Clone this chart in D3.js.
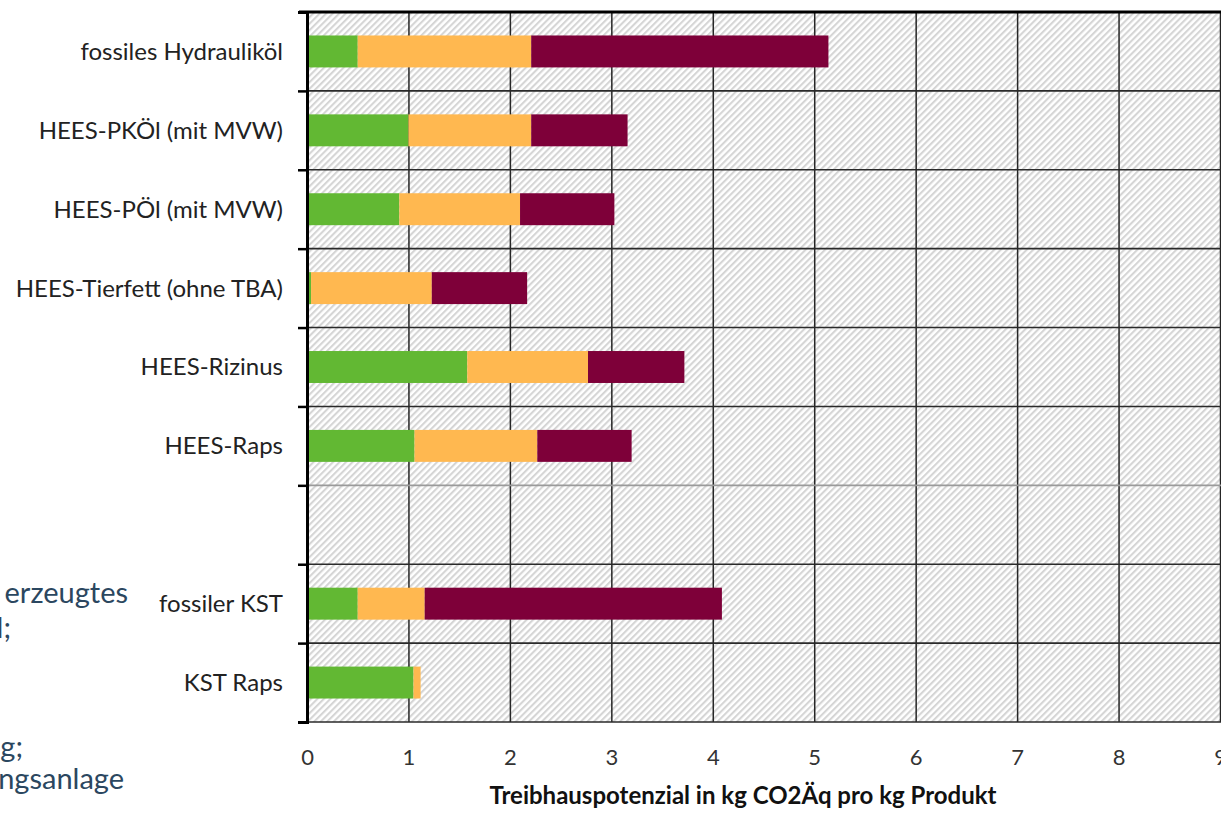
<!DOCTYPE html>
<html>
<head>
<meta charset="utf-8">
<script src="https://cdn.jsdelivr.net/npm/d3@7"></script>
<style>
  html, body { margin: 0; padding: 0; background: #fff; }
  svg { display: block; }
</style>
</head>
<body>
<svg id="chart" width="1221" height="813"></svg>
<script>
// Product categories (one blank slot separates hydraulic oils from cooling lubricants)
const categories = [
  "fossiles Hydrauliköl",
  "HEES-PKÖl (mit MVW)",
  "HEES-PÖl (mit MVW)",
  "HEES-Tierfett (ohne TBA)",
  "HEES-Rizinus",
  "HEES-Raps",
  "",
  "fossiler KST",
  "KST Raps"
];

// Stacked segments, kg CO2-eq per kg product
const segGreen  = [0.50, 1.00, 0.91, 0.04, 1.58, 1.06, null, 0.50, 1.05];
const segOrange = [1.71, 1.21, 1.19, 1.19, 1.19, 1.21, null, 0.66, 0.07];
const segRed    = [2.93, 0.95, 0.93, 0.94, 0.95, 0.93, null, 2.93, 0.00];

const xTicks = [0, 1, 2, 3, 4, 5, 6, 7, 8, 9];
const xTitle = "Treibhauspotenzial in kg CO2Äq pro kg Produkt";

// Fragments of the surrounding slide text, partly outside the view
const sideText = ["erzeugtes", "l;", "g;", "ngsanlage"];

const colors = ["#62b833", "#ffb850", "#7e0039"];

const FONT = "Lato, 'Open Sans', sans-serif";
const svg = d3.select("#chart");
const plot = { left: 307, right: 1220, top: 12, bottom: 722 };

const x = d3.scaleLinear().domain([0, 9]).range([plot.left, plot.right]);
const y = d3.scaleBand().domain(d3.range(categories.length))
  .range([plot.top, plot.bottom]).padding(0);
const slotEdges = d3.scaleLinear().domain([0, categories.length]).range([plot.top, plot.bottom]);
const barH = y.bandwidth() * 0.405;

// Hatched plot background
const defs = svg.append("defs");
const pat = defs.append("pattern")
  .attr("id", "hatch").attr("patternUnits", "userSpaceOnUse")
  .attr("width", 4.6).attr("height", 10)
  .attr("patternTransform", "rotate(45)");
pat.append("rect").attr("width", 4.6).attr("height", 10).attr("fill", "#ffffff");
pat.append("rect").attr("width", 2.1).attr("height", 10).attr("fill", "#d5d5d5");

svg.append("rect")
  .attr("x", plot.left).attr("y", plot.top)
  .attr("width", 1221 - plot.left).attr("height", plot.bottom - plot.top)
  .attr("fill", "url(#hatch)");

// Vertical gridlines + tick labels
const xAxis = svg.append("g")
  .attr("transform", `translate(0,${plot.bottom})`)
  .call(d3.axisBottom(x).tickValues(xTicks).tickSize(-(plot.bottom - plot.top)).tickPadding(27));
xAxis.select(".domain").remove();
xAxis.selectAll(".tick line").attr("stroke", "#262626").attr("stroke-width", 1.5);
xAxis.selectAll(".tick text")
  .attr("font-family", FONT)
  .attr("font-size", 22).attr("fill", "#333");

// Horizontal slot separators
const edges = d3.range(1, categories.length + 1);
svg.append("g").selectAll("line").data(edges).join("line")
  .attr("x1", plot.left).attr("x2", 1221)
  .attr("y1", d => slotEdges(d)).attr("y2", d => slotEdges(d))
  .attr("stroke", d => d === 6 ? "#9a9a9a" : "#2a2a2a")
  .attr("stroke-width", 1.6);

// Stacked bars
const stacks = categories.map((c, i) => ({ i, parts: [segGreen[i], segOrange[i], segRed[i]] }))
  .filter(d => d.parts[0] !== null);
const barG = svg.append("g");
stacks.forEach(d => {
  let acc = 0;
  d.parts.forEach((v, k) => {
    if (v > 0) {
      barG.append("rect")
        .attr("x", x(acc)).attr("width", x(acc + v) - x(acc))
        .attr("y", y(d.i) + (y.bandwidth() - barH) / 2).attr("height", barH)
        .attr("fill", colors[k]);
    }
    acc += v;
  });
});

// Left axis with tick marks at slot boundaries
const yAxis = svg.append("g")
  .attr("transform", `translate(${plot.left},0)`)
  .call(d3.axisLeft(slotEdges).tickValues(d3.range(0, categories.length + 1)).tickSize(9).tickFormat(""));
yAxis.select(".domain").attr("stroke", "#000").attr("stroke-width", 3);
yAxis.selectAll(".tick line").attr("stroke", "#000").attr("stroke-width", 2.5);

// Top frame line
svg.append("line")
  .attr("x1", plot.left - 8).attr("x2", 1221)
  .attr("y1", plot.top).attr("y2", plot.top)
  .attr("stroke", "#000").attr("stroke-width", 3.2);

// Category labels
svg.append("g").selectAll("text").data(categories).join("text")
  .attr("x", 283)
  .attr("y", (d, i) => y(i) + y.bandwidth() / 2)
  .attr("dy", "0.35em")
  .attr("text-anchor", "end")
  .attr("font-family", FONT)
  .attr("font-size", 24)
  .attr("fill", "#222")
  .text(d => d);

// Axis title
svg.append("text")
  .attr("x", 743).attr("y", 804)
  .attr("text-anchor", "middle")
  .attr("font-family", FONT)
  .attr("font-weight", "bold")
  .attr("font-size", 24)
  .attr("fill", "#111")
  .text(xTitle);

// Slide text fragments on the left edge
const sidePos = [[128, 603], [11, 638], [23, 757], [124, 789]];
svg.append("g").selectAll("text").data(sideText).join("text")
  .attr("x", (d, i) => sidePos[i][0])
  .attr("y", (d, i) => sidePos[i][1])
  .attr("text-anchor", "end")
  .attr("font-family", FONT)
  .attr("font-size", 29)
  .attr("fill", "#2b4760")
  .text(d => d);
</script>
</body>
</html>
